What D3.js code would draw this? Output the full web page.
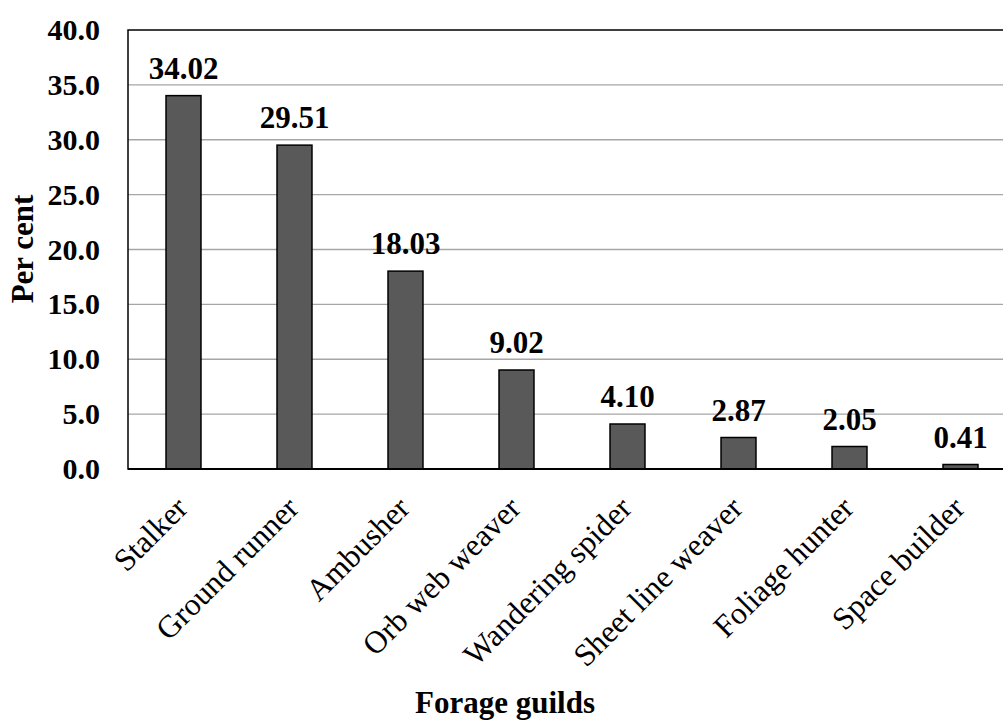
<!DOCTYPE html>
<html>
<head>
<meta charset="utf-8">
<script src="https://cdn.jsdelivr.net/npm/d3@7"></script>
<style>
  html, body { margin: 0; padding: 0; background: #fff; }
  svg { display: block; overflow: hidden; }
  text { font-family: "Liberation Serif", "Times New Roman", serif; fill: #000; }
</style>
</head>
<body>
<svg id="chart" width="1003" height="720"></svg>
<script>
// Forage guild composition of the spider assemblage (% of individuals)
const guilds = ["Stalker", "Ground runner", "Ambusher", "Orb web weaver",
                "Wandering spider", "Sheet line weaver", "Foliage hunter", "Space builder"];
const percents = [34.02, 29.51, 18.03, 9.02, 4.10, 2.87, 2.05, 0.41];
const yTicks = [0, 5, 10, 15, 20, 25, 30, 35, 40];

const svg = d3.select("#chart");
const margin = { left: 128, top: 30 };
const plotW = 888, plotH = 439;

const x = d3.scaleBand().domain(guilds).range([0, plotW]).paddingInner(0.685).paddingOuter(0.3425);
const y = d3.scaleLinear().domain([0, 40]).range([plotH, 0]);

const g = svg.append("g").attr("transform", `translate(${margin.left},${margin.top})`);

// horizontal gridlines
g.append("g")
  .selectAll("line")
  .data(yTicks.filter(t => t > 0 && t < 40))
  .join("line")
  .attr("x1", 0).attr("x2", plotW)
  .attr("y1", d => y(d)).attr("y2", d => y(d))
  .attr("stroke", "#a6a6a6").attr("stroke-width", 1.3);

// plot frame
g.append("rect")
  .attr("x", 0).attr("y", 0).attr("width", plotW).attr("height", plotH)
  .attr("fill", "none").attr("stroke", "#000").attr("stroke-width", 1.5);

// bars
g.append("g")
  .selectAll("rect")
  .data(guilds)
  .join("rect")
  .attr("x", d => x(d))
  .attr("y", (d, i) => y(percents[i]))
  .attr("width", x.bandwidth())
  .attr("height", (d, i) => y(0) - y(percents[i]))
  .attr("fill", "#595959")
  .attr("stroke", "#000").attr("stroke-width", 1.5);

// baseline
g.append("line")
  .attr("x1", 0).attr("x2", plotW).attr("y1", y(0)).attr("y2", y(0))
  .attr("stroke", "#000").attr("stroke-width", 2);

// value labels
g.append("g")
  .selectAll("text")
  .data(guilds)
  .join("text")
  .attr("x", d => x(d) + x.bandwidth() / 2)
  .attr("y", (d, i) => y(percents[i]) - 17)
  .attr("text-anchor", "middle")
  .attr("font-size", 31).attr("font-weight", "bold")
  .text((d, i) => percents[i].toFixed(2));

// y axis tick labels
const yAxis = d3.axisLeft(y).tickValues(yTicks).tickFormat(d3.format(".1f")).tickSize(0).tickPadding(28);
const ya = g.append("g").call(yAxis);
ya.select(".domain").remove();
ya.selectAll("text")
  .attr("font-size", 30).attr("font-weight", "bold")
  .attr("font-family", "Liberation Serif, Times New Roman, serif")
  .attr("fill", "#000");

// category labels
g.append("g")
  .selectAll("text")
  .data(guilds)
  .join("text")
  .attr("text-anchor", "end")
  .attr("font-size", 31.5)
  .attr("transform", d => `translate(${x(d) + x.bandwidth() / 2 + 6},${plotH + 41}) rotate(-45)`)
  .text(d => d);

// axis titles
svg.append("text")
  .attr("x", 505).attr("y", 713)
  .attr("text-anchor", "middle")
  .attr("font-size", 31).attr("font-weight", "bold")
  .text("Forage guilds");

svg.append("text")
  .attr("transform", "translate(33,249) rotate(-90)")
  .attr("text-anchor", "middle")
  .attr("font-size", 31).attr("font-weight", "bold")
  .text("Per cent");
</script>
</body>
</html>
